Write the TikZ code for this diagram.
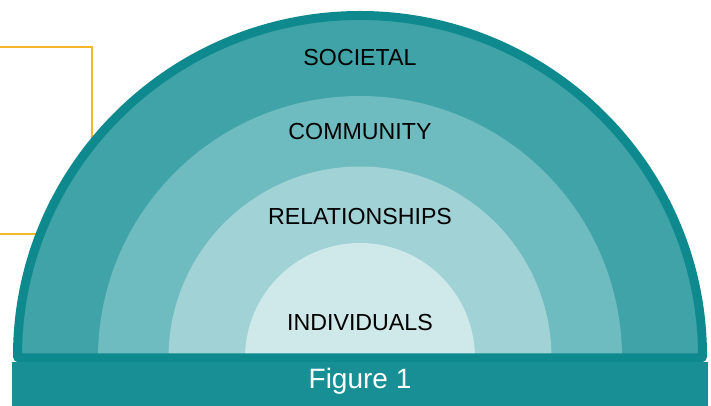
\documentclass[tikz,border=0pt]{standalone}
\usepackage{fontspec}
\setmainfont{Liberation Sans}
\usetikzlibrary{positioning}
\definecolor{border}{HTML}{0E8A8E}
\definecolor{band}{HTML}{178F94}
\definecolor{societal}{HTML}{3FA3A8}
\definecolor{community}{HTML}{6FBCC0}
\definecolor{relations}{HTML}{A0D2D6}
\definecolor{individual}{HTML}{CFE8EA}
\definecolor{gold}{HTML}{F4B72A}
\begin{document}
\begin{tikzpicture}[
x=0.5pt, y=0.5pt,
level/.style={
  font=\fontsize{11.6}{13}\selectfont,
  text=black,
  inner sep=0pt
  },
caption/.style={
  font=\fontsize{14}{16}\selectfont,
  text=white,
  inner sep=0pt
  }
]
\useasboundingbox (0,0) rectangle (711,406);
\coordinate (c) at (360,48);
% yellow frame behind the half disc
\draw[gold, line width=1pt] (-5,172) rectangle (92,359);
% rings, outside in
\fill[societal] (c) ++(-342.5,0) arc (180:0:342.5) -- cycle;
\fill[community] (c) ++(-262,0) arc (180:0:262) -- cycle;
\fill[relations] (c) ++(-191.5,0) arc (180:0:191.5) -- cycle;
\fill[individual] (c) ++(-115,0) arc (180:0:115) -- cycle;
\draw[border, line width=4.5pt, rounded corners=1pt] (c) ++(-342.5,0) arc (180:0:342.5) -- cycle;
\fill[band] (12,0) rectangle (708,44);
% labels
\node[level] (soc) at (360,348) {SOCIETAL};
\node[level] (com) at (360,274) {COMMUNITY};
\node[level] (rel) at (360,189) {RELATIONSHIPS};
\node[level] (ind) at (360,83) {INDIVIDUALS};
\node[caption] (fig) at (360,25) {Figure 1};
\end{tikzpicture}
\end{document}
